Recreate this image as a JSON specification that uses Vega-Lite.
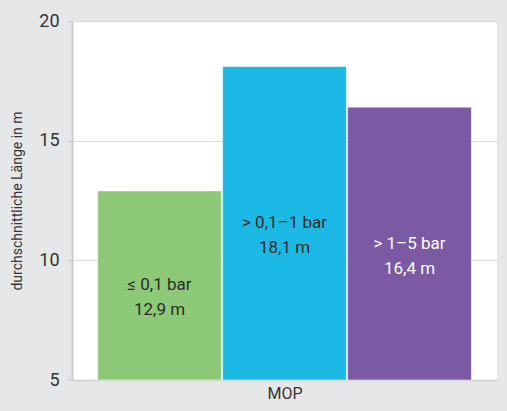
{
  "$schema": "https://vega.github.io/schema/vega-lite/v6.json",
  "width": 425,
  "height": 359,
  "autosize": "none",
  "padding": {"left": 72, "top": 21, "right": 10, "bottom": 31},
  "background": "#e6e7e9",
  "view": {"fill": "#ffffff", "stroke": null},
  "config": {"font": "Roboto"},
  "data": {
    "values": [
      {"cat": "a", "value": 12.9, "label": "≤ 0,1 bar|12,9 m", "tc": "dark"},
      {"cat": "b", "value": 18.1, "label": "> 0,1–1 bar|18,1 m", "tc": "dark"},
      {"cat": "c", "value": 16.4, "label": "> 1–5 bar|16,4 m", "tc": "light"}
    ]
  },
  "transform": [{"calculate": "(datum.value + 5) / 2", "as": "mid"}],
  "encoding": {
    "x": {
      "field": "cat",
      "type": "nominal",
      "scale": {"paddingInner": 0.01, "paddingOuter": 0.205},
      "axis": {
        "title": "MOP",
        "labels": false,
        "ticks": false,
        "domainColor": "#d0d0d0",
        "domainWidth": 1.5,
        "titleFontSize": 16,
        "titleFontWeight": "normal",
        "titleColor": "#333333",
        "titlePadding": 5
      }
    }
  },
  "layer": [
    {
      "mark": {"type": "bar", "stroke": "#ffffff", "strokeWidth": 0.5},
      "encoding": {
        "y": {
          "field": "value",
          "type": "quantitative",
          "scale": {"domain": [5, 20], "zero": false, "nice": false},
          "axis": {
            "values": [5, 10, 15, 20],
            "title": "durchschnittliche Länge in m",
            "titleFontSize": 14,
            "titleFontWeight": "normal",
            "titleColor": "#333333",
            "titlePadding": 14,
            "labelFontSize": 18,
            "labelColor": "#333333",
            "labelPadding": 8,
            "tickSize": 5,
            "tickColor": "#cccccc",
            "domainColor": "#cccccc",
            "domainWidth": 2,
            "gridColor": "#d9d9d9",
            "grid": true
          }
        },
        "y2": {"datum": 5},
        "color": {
          "field": "cat",
          "type": "nominal",
          "scale": {"domain": ["a", "b", "c"], "range": ["#8dc977", "#1cb9e7", "#7b59a3"]},
          "legend": null
        }
      }
    },
    {
      "mark": {"type": "text", "fontSize": 17, "lineBreak": "|", "lineHeight": 25, "baseline": "middle"},
      "encoding": {
        "y": {"field": "mid", "type": "quantitative"},
        "text": {"field": "label"},
        "color": {
          "condition": {"test": "datum.tc === 'light'", "value": "#ffffff"},
          "value": "#2b2b2b"
        }
      }
    }
  ]
}
